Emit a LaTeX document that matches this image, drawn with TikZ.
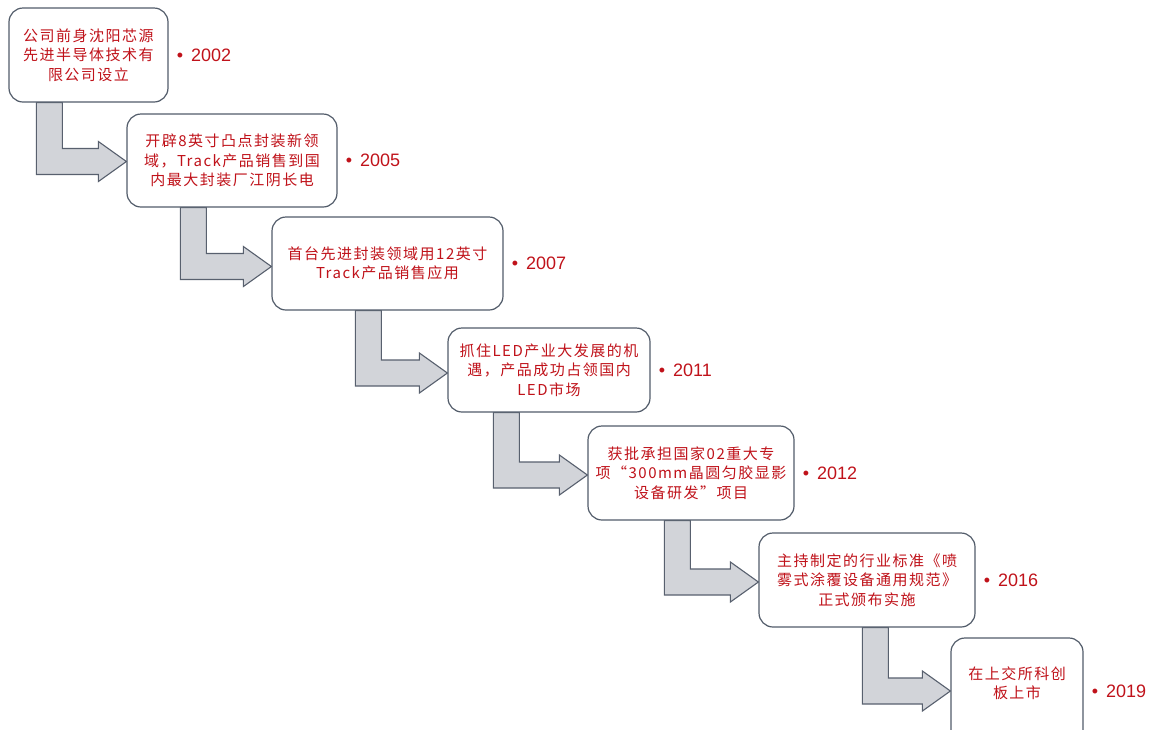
\documentclass[tikz,border=0pt]{standalone}
\usepackage{fontspec}
\setmainfont{Liberation Sans}
\newfontfamily\cjkfont[LetterSpace=10]{Noto Sans CJK SC}
\usetikzlibrary{calc}
\definecolor{txtred}{RGB}{192,18,26}
\definecolor{boxline}{RGB}{82,92,106}
\definecolor{arrfill}{RGB}{210,212,217}
\definecolor{arrline}{RGB}{88,96,110}
\pgfdeclarelayer{bg}
\pgfsetlayers{bg,main}
\tikzset{
  boxtext/.style={align=center, text=txtred, inner sep=2pt,
    font={\cjkfont\fontsize{15}{19.5}\selectfont}},
  evt/.style={draw=boxline, line width=1.2pt, rounded corners=14pt, fill=white,
    boxtext},
  year/.style={text=txtred, anchor=west, inner sep=0pt,
    font={\fontsize{18}{20}\selectfont}},
  arr/.style={draw=arrline, line width=1.1pt, fill=arrfill, line join=miter}
}
% #1 upper box, #2 lower box, #3 shaft offset, #4 tip y offset (pt, downward)
\newcommand\bentarrow[4]{%
  \draw[arr] let \p1=(#1.south west), \p2=($(#2.west)+(0,#4)$) in
    (\x1+#3pt,\y1) -- (\x1+#3pt+26pt,\y1) -- (\x1+#3pt+26pt,\y2+13pt)
    -- (\x2-28pt,\y2+13pt) -- (\x2-28pt,\y2+20pt) -- (\x2,\y2)
    -- (\x2-28pt,\y2-20pt) -- (\x2-28pt,\y2-13pt) -- (\x1+#3pt,\y2-13pt) -- cycle;}
\begin{document}
\begin{tikzpicture}[x=1pt,y=-1pt]
\useasboundingbox (0,0) rectangle (1152,729);
\clip (0,0) rectangle (1152,729);

\node[evt, minimum width=159pt, minimum height=94pt] (b1) at (88.5,55)
  {公司前身沈阳芯源\\先进半导体技术有\\限公司设立};
\node[evt, minimum width=210pt, minimum height=93pt] (b2) at (232,160.5)
  {开辟8英寸凸点封装新领\\域，Track产品销售到国\\内最大封装厂江阴长电};
\node[evt, minimum width=231pt, minimum height=93pt] (b3) at (387.5,263.5)
  {首台先进封装领域用12英寸\\Track产品销售应用};
\node[evt, minimum width=202pt, minimum height=84pt] (b4) at (549,370)
  {抓住LED产业大发展的机\\遇，产品成功占领国内\\LED市场};
\node[evt, minimum width=206pt, minimum height=94pt] (b5) at (691,473)
  {获批承担国家02重大专\\项“300mm晶圆匀胶显影\\设备研发”项目};
\node[evt, minimum width=216pt, minimum height=94pt] (b6) at (867,580)
  {主持制定的行业标准《喷\\雾式涂覆设备通用规范》\\正式颁布实施};
\node[evt, minimum width=132pt, minimum height=106pt,
  label={[boxtext, yshift=8pt]center:在上交所科创\\板上市}] (b7) at (1017,691) {};

\node[year] (y1) at ([xshift=8pt]b1.east) {•\hspace{8pt}2002};
\node[year] (y2) at ([xshift=8pt]b2.east) {•\hspace{8pt}2005};
\node[year] (y3) at ([xshift=8pt]b3.east) {•\hspace{8pt}2007};
\node[year] (y4) at ([xshift=8pt]b4.east) {•\hspace{8pt}2011};
\node[year] (y5) at ([xshift=8pt]b5.east) {•\hspace{8pt}2012};
\node[year] (y6) at ([xshift=8pt]b6.east) {•\hspace{8pt}2016};
\node[year] (y7) at ([xshift=8pt]b7.east) {•\hspace{8pt}2019};

\begin{pgfonlayer}{bg}
\bentarrow{b1}{b2}{28}{1}
\bentarrow{b2}{b3}{54}{3}
\bentarrow{b3}{b4}{84}{3}
\bentarrow{b4}{b5}{46}{2}
\bentarrow{b5}{b6}{77}{2}
\bentarrow{b6}{b7}{104}{0}
\end{pgfonlayer}
\end{tikzpicture}
\end{document}
